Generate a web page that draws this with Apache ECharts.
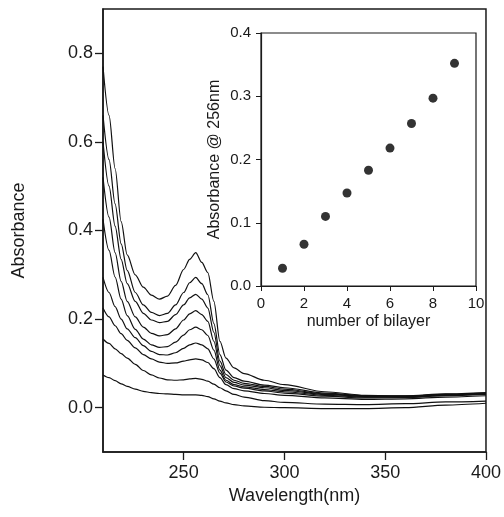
<!DOCTYPE html>
<html>
<head>
<meta charset="utf-8">
<script src="https://cdn.jsdelivr.net/npm/echarts@6/dist/echarts.min.js"></script>
<style>
html,body{margin:0;padding:0;background:#fff;}
#chart{width:504px;height:517px;}
</style>
</head>
<body>
<div id="chart"></div>
<script>
// Wavelengths (nm)
const wavelengths = [210, 213, 216, 219, 222, 226, 230, 234, 238, 242, 246, 250, 253, 256, 259, 262, 265, 268, 271, 275, 280, 290, 300, 320, 340, 360, 380, 400];

// Absorbance spectra, 9 bilayers (top to bottom)
const spec9 = [0.77, 0.66, 0.54, 0.42, 0.345, 0.30, 0.272, 0.254, 0.245, 0.252, 0.276, 0.312, 0.335, 0.350, 0.328, 0.305, 0.24, 0.15, 0.112, 0.090, 0.077, 0.062, 0.052, 0.036, 0.028, 0.026, 0.030, 0.032];
const spec8 = [0.66, 0.56, 0.46, 0.37, 0.31, 0.26, 0.232, 0.215, 0.208, 0.213, 0.232, 0.26, 0.282, 0.294, 0.28, 0.255, 0.19, 0.12, 0.085, 0.068, 0.060, 0.051, 0.045, 0.033, 0.027, 0.027, 0.031, 0.034];
const spec7 = [0.60, 0.50, 0.41, 0.335, 0.28, 0.24, 0.213, 0.198, 0.192, 0.195, 0.210, 0.232, 0.248, 0.256, 0.245, 0.225, 0.17, 0.105, 0.075, 0.062, 0.055, 0.048, 0.042, 0.031, 0.026, 0.026, 0.030, 0.033];
const spec6 = [0.52, 0.43, 0.35, 0.285, 0.24, 0.205, 0.182, 0.168, 0.162, 0.165, 0.178, 0.198, 0.212, 0.219, 0.21, 0.195, 0.15, 0.095, 0.068, 0.057, 0.051, 0.045, 0.039, 0.030, 0.025, 0.025, 0.029, 0.032];
const spec5 = [0.425, 0.355, 0.295, 0.245, 0.208, 0.177, 0.155, 0.142, 0.136, 0.138, 0.148, 0.164, 0.176, 0.182, 0.176, 0.163, 0.13, 0.085, 0.062, 0.052, 0.047, 0.041, 0.036, 0.028, 0.024, 0.024, 0.028, 0.031];
const spec4 = [0.294, 0.26, 0.228, 0.20, 0.178, 0.158, 0.14, 0.127, 0.12, 0.119, 0.124, 0.134, 0.142, 0.146, 0.142, 0.133, 0.11, 0.078, 0.058, 0.049, 0.044, 0.038, 0.033, 0.026, 0.022, 0.023, 0.027, 0.030];
const spec3 = [0.225, 0.205, 0.185, 0.167, 0.152, 0.135, 0.12, 0.11, 0.103, 0.100, 0.101, 0.105, 0.108, 0.110, 0.108, 0.102, 0.088, 0.068, 0.052, 0.043, 0.038, 0.032, 0.028, 0.022, 0.019, 0.020, 0.024, 0.027];
const spec2 = [0.155, 0.145, 0.133, 0.122, 0.112, 0.098, 0.084, 0.074, 0.067, 0.063, 0.062, 0.063, 0.065, 0.066, 0.064, 0.060, 0.053, 0.045, 0.038, 0.030, 0.024, 0.016, 0.012, 0.008, 0.007, 0.009, 0.013, 0.015];
const spec1 = [0.074, 0.068, 0.061, 0.054, 0.048, 0.042, 0.037, 0.034, 0.032, 0.031, 0.030, 0.029, 0.029, 0.029, 0.028, 0.025, 0.020, 0.015, 0.011, 0.007, 0.004, 0.001, 0.000, -0.002, -0.002, 0.000, 0.006, 0.010];
const spectra = [spec9, spec8, spec7, spec6, spec5, spec4, spec3, spec2, spec1];

// Inset: absorbance at 256 nm vs number of bilayers
const bilayers = [1, 2, 3, 4, 5, 6, 7, 8, 9];
const abs256 = [0.028, 0.066, 0.110, 0.147, 0.183, 0.218, 0.257, 0.297, 0.352];

// Tick values
const mainYTicks = [0, 0.2, 0.4, 0.6, 0.8];
const mainXTicks = [250, 300, 350, 400];

const FONT = '"Liberation Sans", Arial, Helvetica, sans-serif';
const INK = '#1a1a1a';

const chart = echarts.init(document.getElementById('chart'), null, {renderer: 'canvas'});

const lineSeries = spectra.map(function (s) {
  return {
    type: 'line',
    xAxisIndex: 0, yAxisIndex: 0,
    data: wavelengths.map(function (w, i) { return [w, s[i]]; }),
    showSymbol: false, symbol: 'none',
    smooth: 0.3, smoothMonotone: 'x',
    lineStyle: {color: '#111', width: 1.2},
    clip: true,
    silent: true
  };
});

chart.setOption({
  animation: false,
  backgroundColor: '#fff',
  grid: [
    {left: 103, top: 9, right: 17, bottom: 65, show: true, borderColor: INK, borderWidth: 1.5, backgroundColor: 'transparent'},
    {left: 261, top: 33, right: 28, bottom: 231, show: true, borderColor: INK, borderWidth: 1.2, backgroundColor: 'transparent'}
  ],
  xAxis: [
    {
      type: 'value', gridIndex: 0, min: 210, max: 400,
      name: 'Wavelength(nm)', nameLocation: 'middle', nameGap: 34,
      nameTextStyle: {fontFamily: FONT, fontSize: 18, color: INK},
      axisLine: {show: true, onZero: false, lineStyle: {color: INK, width: 1.5}},
      axisTick: {show: true, length: 8, customValues: mainXTicks, lineStyle: {color: INK, width: 1.3}},
      axisLabel: {customValues: mainXTicks, margin: 12, fontFamily: FONT, fontSize: 18, color: INK},
      splitLine: {show: false}
    },
    {
      type: 'value', gridIndex: 1, min: 0, max: 10, interval: 2,
      name: 'number of bilayer', nameLocation: 'middle', nameGap: 28,
      nameTextStyle: {fontFamily: FONT, fontSize: 16, color: INK},
      axisLine: {show: true, onZero: false, lineStyle: {color: INK, width: 1.2}},
      axisTick: {show: true, length: 5, lineStyle: {color: INK, width: 1}},
      axisLabel: {margin: 10, fontFamily: FONT, fontSize: 15, color: INK},
      splitLine: {show: false}
    }
  ],
  yAxis: [
    {
      type: 'value', gridIndex: 0, min: -0.1, max: 0.9,
      name: 'Absorbance', nameLocation: 'middle', nameGap: 75, nameRotate: 90,
      nameTextStyle: {fontFamily: FONT, fontSize: 18, color: INK},
      axisLine: {show: true, onZero: false, lineStyle: {color: INK, width: 1.5}},
      axisTick: {show: true, length: 8, customValues: mainYTicks, lineStyle: {color: INK, width: 1.3}},
      axisLabel: {customValues: mainYTicks, margin: 10, fontFamily: FONT, fontSize: 18, color: INK,
        formatter: function (v) { return v.toFixed(1); }},
      splitLine: {show: false}
    },
    {
      type: 'value', gridIndex: 1, min: 0, max: 0.4, interval: 0.1,
      name: 'Absorbance @ 256nm', nameLocation: 'middle', nameGap: 38, nameRotate: 90,
      nameTextStyle: {fontFamily: FONT, fontSize: 16, color: INK},
      axisLine: {show: true, onZero: false, lineStyle: {color: INK, width: 1.2}},
      axisTick: {show: true, length: 5, lineStyle: {color: INK, width: 1}},
      axisLabel: {margin: 10, fontFamily: FONT, fontSize: 15, color: INK,
        formatter: function (v) { return v.toFixed(1); }},
      splitLine: {show: false}
    }
  ],
  series: lineSeries.concat([{
    type: 'scatter', xAxisIndex: 1, yAxisIndex: 1,
    data: bilayers.map(function (b, i) { return [b, abs256[i]]; }),
    symbol: 'circle', symbolSize: 9,
    itemStyle: {color: '#000'},
    silent: true
  }])
});
</script>
</body>
</html>
